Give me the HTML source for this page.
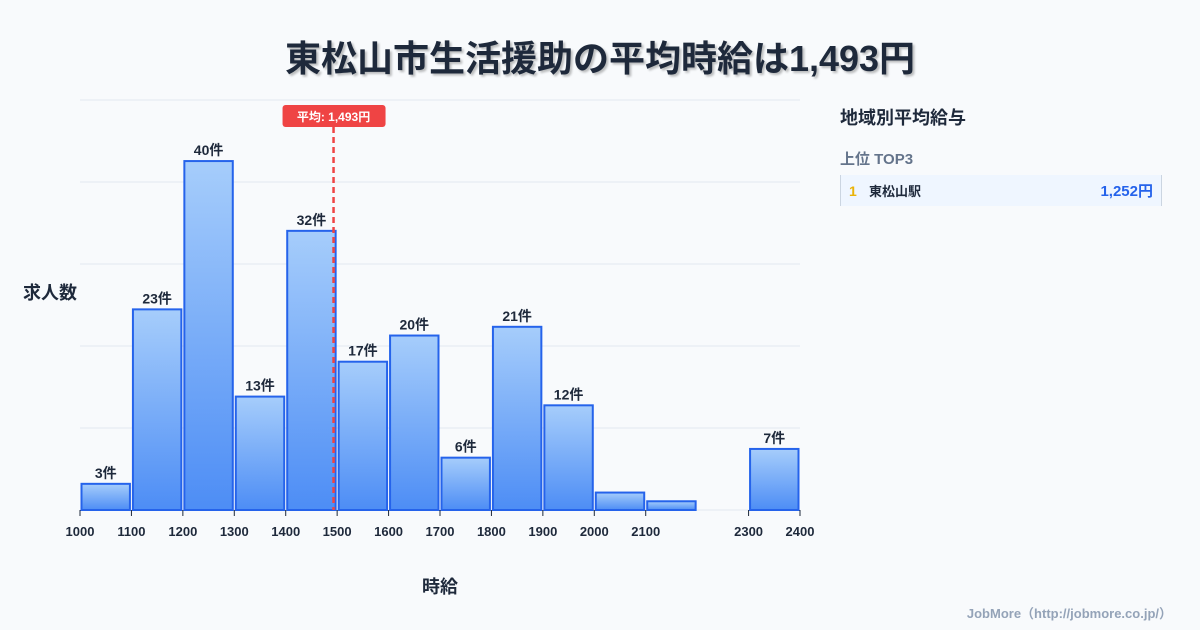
<!DOCTYPE html>
<html><head><meta charset="utf-8">
<style>
body{margin:0;width:1200px;height:630px;background:#f8fafc;font-family:"Liberation Sans","Noto Sans CJK JP",sans-serif;overflow:hidden;position:relative;color:#1e293b}
.title{position:absolute;top:30px;left:0;width:1200px;text-align:center;font-size:36px;font-weight:bold;color:#1e293b;text-shadow:2px 2px 2px rgba(0,0,0,0.25)}
.panel{position:absolute;left:840px;top:104px;width:322px}
.ph{font-size:18px;font-weight:bold;color:#1e293b}
.sub{margin-top:18px;font-size:15px;font-weight:bold;color:#64748b}
.row{margin-top:6px;height:31px;background:#eff6ff;border-left:1px solid #cbd5e1;border-right:1px solid #cbd5e1;display:flex;align-items:center;font-size:13px;font-weight:bold}
.rk{color:#eab308;width:20px;padding-left:8px;font-size:14px}
.nm{flex:1;color:#1e293b}
.val{color:#2563eb;padding-right:8px;font-size:15px}
.foot{position:absolute;right:28px;top:603px;font-size:13px;font-weight:bold;color:#94a3b8}
</style></head><body>
<div class="title">東松山市生活援助の平均時給は1,493円</div>
<svg id="chart" width="1200" height="630" style="position:absolute;left:0;top:0"></svg>
<div class="panel">
<div class="ph">地域別平均給与</div>
<div class="sub">上位 TOP3</div>
<div class="row"><span class="rk">1</span><span class="nm">東松山駅</span><span class="val">1,252円</span></div>
</div>
<div class="foot">JobMore（http://jobmore.co.jp/）</div>
<script>
const binStarts=[1000,1100,1200,1300,1400,1500,1600,1700,1800,1900,2000,2100,2200,2300];
const counts=[3,23,40,13,32,17,20,6,21,12,2,1,0,7];
const showLabel=[true,true,true,true,true,true,true,true,true,true,false,false,false,true];
const tickValues=[1000,1100,1200,1300,1400,1500,1600,1700,1800,1900,2000,2100,2300,2400];
const avgValue=1493;
const avgLabel="平均: 1,493円";
const xMin=1000,xMax=2400,yMax=47;
const L=80,R=800,T=100,B=510;
const xs=v=>L+(v-xMin)/(xMax-xMin)*(R-L);
const ys=v=>B-v/yMax*(B-T);
const svg=document.getElementById('chart');
const NS='http://www.w3.org/2000/svg';
function mk(t,a){const e=document.createElementNS(NS,t);for(const k in a)e.setAttribute(k,a[k]);svg.appendChild(e);return e;}
const defs=mk('defs',{});
defs.innerHTML='<linearGradient id="g" x1="0" y1="0" x2="0" y2="1"><stop offset="0" stop-color="#a6cdfb"/><stop offset="1" stop-color="#4d8df5"/></linearGradient>';
for(let i=0;i<=5;i++){const y=B-i*(B-T)/5;
const g=mk('line',{x1:L,x2:R,y1:y,y2:y,stroke:'#e2e8f0','stroke-width':1});

}
const bw=xs(1100)-xs(1000);
binStarts.forEach((s,i)=>{
 if(counts[i]<=0)return;
 const x=xs(s),y=ys(counts[i]);
 const r=mk('rect',{x:x+1.5,y:y,width:bw-3,height:B-y,fill:'url(#g)',stroke:'#2563eb','stroke-width':2});
 
 
 if(showLabel[i]){const t=mk('text',{x:x+bw/2,y:y-6,'text-anchor':'middle','font-size':14,'font-weight':'bold',fill:'#1e293b'});t.textContent=counts[i]+'件';
 
 }
});
tickValues.forEach(v=>{
 const x=xs(v);
 const tk=mk('line',{x1:x,x2:x,y1:B,y2:B+6,stroke:'#1e293b','stroke-width':1});
 
 
 const t=mk('text',{x:x,y:536,'text-anchor':'middle','font-size':13,'font-weight':'bold',fill:'#1e293b'});t.textContent=v;
 
 
});
const ax=xs(avgValue);
const al=mk('line',{x1:ax,x2:ax,y1:127,y2:B,stroke:'#ef4444','stroke-width':2.5,'stroke-dasharray':'6,4'});


const ab=mk('rect',{x:ax-51,y:105,width:103,height:22,rx:3,fill:'#ef4444'});


const at=mk('text',{x:ax,y:121,'text-anchor':'middle','font-size':12,'font-weight':'bold',fill:'#fff'});at.textContent=avgLabel;


const yt=mk('text',{x:50,y:299,'text-anchor':'middle','font-size':18,'font-weight':'bold',fill:'#1e293b'});yt.textContent='求人数';


const xt=mk('text',{x:440,y:593,'text-anchor':'middle','font-size':18,'font-weight':'bold',fill:'#1e293b'});xt.textContent='時給';


</script>
</body></html>
